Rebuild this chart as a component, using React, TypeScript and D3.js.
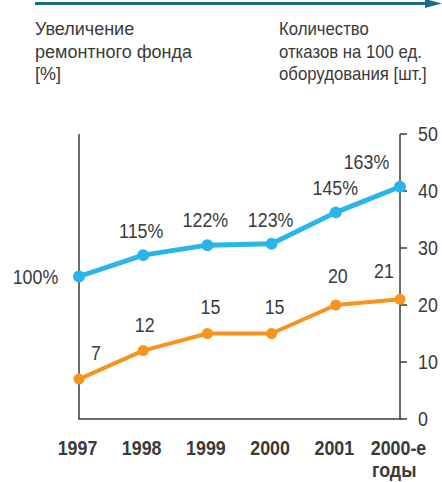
import React from 'react';
import * as d3 from 'd3';

const years = ['1997', '1998', '1999', '2000', '2001', '2000-е'];
const fundGrowth = [100, 115, 122, 123, 145, 163]; // %
const failures = [7, 12, 15, 15, 20, 21]; // шт. на 100 ед.
const rightTicks = [0, 10, 20, 30, 40, 50];
const leftTitle = ['Увеличение', 'ремонтного фонда', '[%]'];
const rightTitle = ['Количество', 'отказов на 100 ед.', 'оборудования [шт.]'];

const W = 442;
const H = 482;
const font = '"Liberation Sans", Arial, sans-serif';
const blue = '#29b5e8';
const orange = '#f7941d';
const axisColor = '#3a3a3a';
const textColor = '#3a3a3a';
const squeeze = 0.85; // the original uses a condensed face

// label offsets per point (dx, dy from the point)
const blueLabelPos = [[-43.5, 7], [-2, -17], [-2, -18], [-1, -17], [-0.5, -17], [-33.5, -17.5]];
const orangeLabelPos = [[17, -19], [1.5, -19], [3, -19.5], [3, -19.5], [2, -22], [-16, -21]];

type LabelProps = {
  x: number; y: number; children: React.ReactNode;
  anchor?: 'start' | 'middle' | 'end'; size?: number; bold?: boolean;
};

// narrow text: scale horizontally round the anchor point
const Label = ({ x, y, children, anchor = 'middle', size = 21, bold = false }: LabelProps) => (
  <g transform={`translate(${x},${y}) scale(${squeeze},1)`}>
    <text fontSize={size} fontWeight={bold ? 'bold' : 'normal'} textAnchor={anchor} fill={textColor}>{children}</text>
  </g>
);

const App = () => {
  const x = d3.scalePoint<string>().domain(years).range([79, 400]);
  const yRight = d3.scaleLinear().domain([0, 50]).range([419, 134]);
  const yLeft = d3.scaleLinear().domain([0, 200]).range([419, 134]);

  const blueLine = d3.line<number>()
    .x((_, i) => x(years[i])!)
    .y(d => yLeft(d));
  const orangeLine = d3.line<number>()
    .x((_, i) => x(years[i])!)
    .y(d => yRight(d));

  return (
    <svg width={W} height={H} style={{ position: 'absolute', left: 0, top: 0 }} fontFamily={font}>
      <line x1={35} x2={428} y1={3.5} y2={3.5} stroke="#1d6a88" strokeWidth={3} />
      <path d="M425,-1 L442,3.5 L425,8 z" fill="#1d6a88" />

      {leftTitle.map((t, i) => (
        <text key={t} x={35} y={35 + i * 22.5} fontSize={18} fill={textColor}>{t}</text>
      ))}
      {rightTitle.map((t, i) => (
        <g key={t} transform={`translate(279,${35 + i * 22.5}) scale(0.93,1)`}>
          <text fontSize={18} fill={textColor}>{t}</text>
        </g>
      ))}

      {/* axes */}
      <line x1={79} x2={79} y1={134} y2={419} stroke={axisColor} strokeWidth={1.5} />
      <line x1={78.25} x2={400.75} y1={419} y2={419} stroke={axisColor} strokeWidth={1.5} />
      <line x1={400} x2={400} y1={134} y2={419} stroke={axisColor} strokeWidth={1.5} />
      {rightTicks.map(t => (
        <g key={t}>
          <line x1={400} x2={407} y1={yRight(t)} y2={yRight(t)} stroke={axisColor} strokeWidth={1.5} />
          <Label x={418} y={yRight(t) + 6.5} anchor="start">{t}</Label>
        </g>
      ))}

      {/* x labels */}
      {years.map(y => (
        <Label key={y} x={x(y)! - 1.5} y={455} bold>{y}</Label>
      ))}
      <Label x={x('2000-е')! - 28} y={477} anchor="start" bold>годы</Label>

      {/* series */}
      <path d={blueLine(fundGrowth)!} fill="none" stroke={blue} strokeWidth={5} strokeLinejoin="round" />
      {fundGrowth.map((v, i) => (
        <circle key={i} cx={x(years[i])!} cy={yLeft(v)} r={6} fill={blue} />
      ))}
      <path d={orangeLine(failures)!} fill="none" stroke={orange} strokeWidth={4} strokeLinejoin="round" />
      {failures.map((v, i) => (
        <circle key={i} cx={x(years[i])!} cy={yRight(v)} r={5.5} fill={orange} />
      ))}

      {fundGrowth.map((v, i) => (
        <Label key={i} x={x(years[i])! + blueLabelPos[i][0]} y={yLeft(v) + blueLabelPos[i][1]}>{v}%</Label>
      ))}
      {failures.map((v, i) => (
        <Label key={i} x={x(years[i])! + orangeLabelPos[i][0]} y={yRight(v) + orangeLabelPos[i][1]}>{v}</Label>
      ))}
    </svg>
  );
};

export default App;
